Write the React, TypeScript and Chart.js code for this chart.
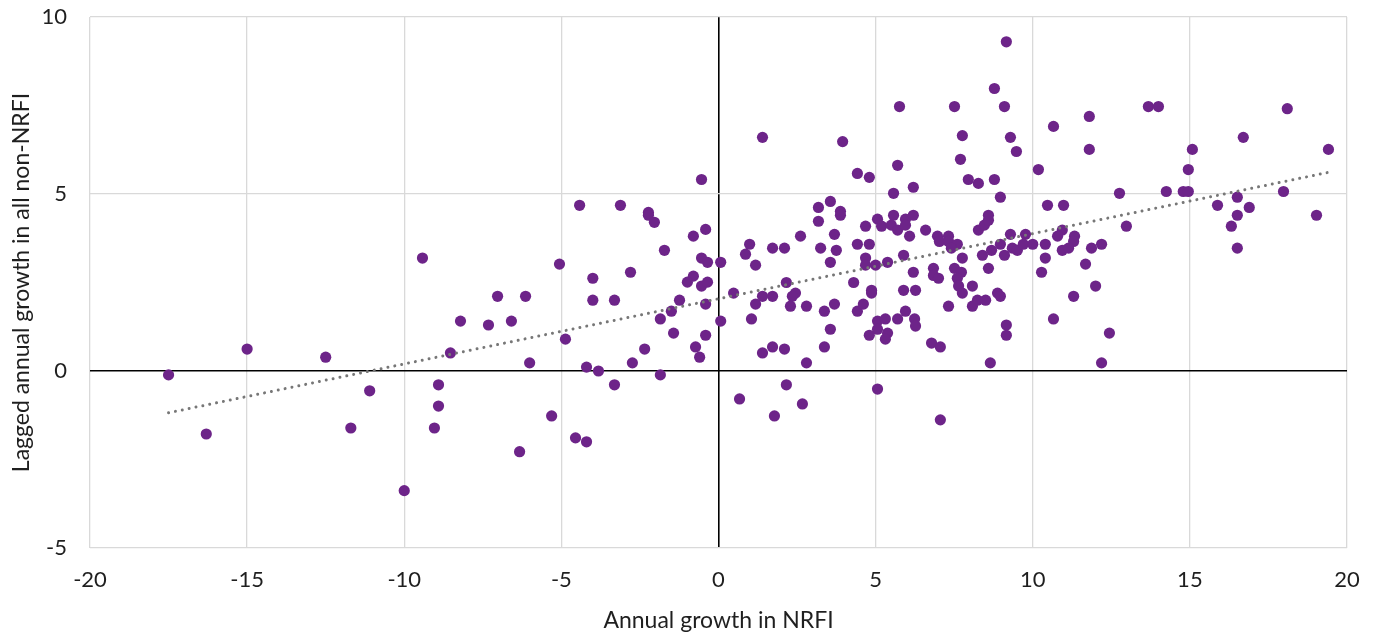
import React, { useEffect, useRef } from 'react';
import { Chart, registerables } from 'chart.js';

Chart.register(...registerables);

// Annual growth in NRFI (x) and lagged annual growth in all non-NRFI (y)
const NRFI_GROWTH: number[] = [
  -17.5, -16.3, -15.0, -12.5, -11.1, -11.7, -10.0,
  -0.54, -4.42, -3.12, -2.23, -2.23, -2.04, -0.41, -0.8, -9.42, -5.06, -0.54, -0.35, 0.07,
  -1.72, -4.0, -2.8, -0.8, -0.99, -0.54, -0.35, -7.03, -6.14, -4.0, -3.31, -1.24, -0.41,
  -1.5, -1.85, 0.07, -8.21, -7.32, -6.59, -1.43, -0.41, -4.87, -2.35, -0.73, -0.6, -8.53,
  -6.01, -2.74, -4.2, -3.82, -1.85, -3.31, -8.91, -8.91, -9.04, -5.31, -4.55, -4.2, -6.33,
  9.16, 8.78, 5.76, 7.51, 9.1, 1.4, 3.95, 7.76, 9.29, 9.48, 7.7, 5.7, 4.42, 4.8, 7.95,
  8.27, 8.78, 5.57, 6.2, 8.97, 10.18, 3.56, 3.18, 3.88, 3.88, 3.18, 5.06, 5.57, 5.95, 6.2,
  5.19, 5.5, 5.7, 5.95, 6.08, 4.68, 6.59, 3.69, 2.61, 6.97, 7.32, 7.03, 7.32, 7.6, 8.27,
  8.46, 8.59, 8.59, 9.29, 9.77, 8.97, 9.35, 9.51, 9.7, 10.0, 0.99, 0.86, 1.18, 1.72, 2.1,
  3.25, 3.75, 4.42, 4.8, 3.56, 4.68, 4.68, 5.0, 5.38, 5.89, 7.41, 7.76, 8.4, 8.69, 9.1,
  6.2, 6.84, 6.84, 7.0, 7.51, 7.73, 7.6, 8.59, 2.16, 4.3,
  4.87, 4.87, 5.89, 6.27, 7.64, 7.76, 8.08, 8.88, 8.97, 0.48, 1.4, 1.72, 2.45, 2.35, 1.18,
  2.29, 2.8, 3.37, 3.69, 4.42, 4.61, 1.05, 5.06, 5.31, 5.7, 5.95, 6.24, 6.27, 7.32, 8.08,
  8.24, 8.5, 3.56, 5.06, 5.38, 4.8, 5.31, 9.16, 9.16, 1.4, 1.72, 2.1, 3.37, 2.8, 6.78,
  7.06, 8.65, 2.16, 0.67, 2.67, 1.78, 5.06, 7.06,
  13.68, 14.0, 18.1, 11.8, 10.66, 16.7, 11.8, 15.08, 19.41, 14.95, 12.76, 14.25, 14.79,
  14.95, 17.98, 16.51, 10.47, 10.98, 15.88, 16.89, 16.51, 19.03, 12.98, 16.32, 10.94,
  10.79, 11.33, 11.3, 10.4, 12.19, 11.87, 10.94, 11.14, 16.51, 10.4, 11.68, 10.28, 12.0,
  11.3, 10.66, 12.44, 12.19,
];

const LAGGED_GROWTH: number[] = [
  -0.11, -1.78, 0.62, 0.39, -0.56, -1.61, -3.38,
  5.41, 4.68, 4.68, 4.48, 4.4, 4.2, 4.0, 3.81, 3.19, 3.02, 3.19, 3.07, 3.07,
  3.41, 2.62, 2.79, 2.68, 2.51, 2.4, 2.51, 2.11, 2.11, 2.0, 2.0, 2.0, 1.89,
  1.69, 1.47, 1.41, 1.41, 1.3, 1.41, 1.07, 1.01, 0.9, 0.62, 0.68, 0.39, 0.51,
  0.23, 0.23, 0.11, 0.0, -0.11, -0.39, -0.39, -0.99, -1.61, -1.27, -1.89, -2.0, -2.28,
  9.3, 7.98, 7.47, 7.47, 7.47, 6.6, 6.48, 6.65, 6.6, 6.2, 5.98, 5.81, 5.58, 5.47, 5.41,
  5.3, 5.41, 5.02, 5.19, 4.91, 5.69, 4.79, 4.62, 4.51, 4.4, 4.23, 4.29, 4.4, 4.29, 4.4,
  4.09, 4.12, 3.98, 4.12, 3.81, 4.09, 3.98, 3.86, 3.81, 3.81, 3.81, 3.66, 3.66, 3.58, 3.98,
  4.12, 4.26, 4.4, 3.86, 3.86, 3.58, 3.47, 3.41, 3.58, 3.58, 3.58, 3.3, 2.99, 3.47, 3.47,
  3.47, 3.41, 3.58, 3.58, 3.07, 3.19, 2.99, 2.99, 3.07, 3.27, 3.47, 3.19, 3.27, 3.41, 3.27,
  2.79, 2.9, 2.7, 2.62, 2.9, 2.79, 2.62, 2.9, 2.5, 2.5,
  2.28, 2.2, 2.28, 2.28, 2.4, 2.2, 2.4, 2.2, 2.11, 2.2, 2.11, 2.11, 2.2, 2.11, 1.89,
  1.83, 1.83, 1.69, 1.89, 1.69, 1.89, 1.47, 1.41, 1.47, 1.47, 1.69, 1.47, 1.27, 1.83, 1.83,
  2.0, 2.0, 1.18, 1.18, 1.07, 1.01, 0.9, 1.3, 1.01, 0.51, 0.68, 0.62, 0.68, 0.23, 0.79,
  0.68, 0.23, -0.39, -0.79, -0.93, -1.27, -0.51, -1.38,
  7.47, 7.47, 7.41, 7.19, 6.91, 6.6, 6.26, 6.26, 6.26, 5.69, 5.02, 5.07, 5.07,
  5.07, 5.07, 4.91, 4.68, 4.68, 4.68, 4.62, 4.4, 4.4, 4.09, 4.09, 3.98,
  3.81, 3.81, 3.66, 3.58, 3.58, 3.47, 3.41, 3.47, 3.47, 3.19, 3.02, 2.79, 2.4,
  2.11, 1.47, 1.07, 0.23,
];

const X_TICKS: number[] = [-20, -15, -10, -5, 0, 5, 10, 15, 20];
const Y_TICKS: number[] = [-5, 0, 5, 10];

// Linear trendline
const TREND_SLOPE = 0.184;
const TREND_INTERCEPT = 2.04;

const X_TITLE = 'Annual growth in NRFI';
const Y_TITLE = 'Lagged annual growth in all non-NRFI';

export default function App() {
  const canvasRef = useRef<HTMLCanvasElement | null>(null);

  useEffect(() => {
    document.body.style.margin = '0';
    const canvas = canvasRef.current;
    if (!canvas) return;

    const points = NRFI_GROWTH.map((x, i) => ({ x, y: LAGGED_GROWTH[i] }));
    const minX = Math.min(...NRFI_GROWTH);
    const maxX = Math.max(...NRFI_GROWTH);
    const trend = [minX, maxX].map((x) => ({ x, y: TREND_INTERCEPT + TREND_SLOPE * x }));

    const tickFont = { family: 'Lato', size: 22 };
    const titleFont = { family: 'Lato', size: 23 };
    const textColor = '#1f1f1f';
    const gridColor = (ctx: any) => (ctx.tick && ctx.tick.value === 0 ? '#000000' : '#d9d9d9');
    const gridWidth = (ctx: any) => (ctx.tick && ctx.tick.value === 0 ? 1.6 : 1.3);

    const chart = new Chart(canvas, {
      type: 'scatter',
      data: {
        datasets: [
          {
            type: 'line',
            label: 'Trend',
            data: trend,
            showLine: true,
            borderColor: '#777777',
            borderWidth: 3,
            borderDash: [0.001, 7],
            borderCapStyle: 'round',
            pointRadius: 0,
            fill: false,
            order: 0,
          } as any,
          {
            label: 'Data',
            data: points,
            backgroundColor: '#6d2489',
            borderColor: '#6d2489',
            borderWidth: 0,
            pointRadius: 5.6,
            order: 1,
          },
        ],
      },
      options: {
        animation: false,
        responsive: false,
        layout: { padding: { top: 17, right: 27, left: 0, bottom: 0 } },
        plugins: {
          legend: { display: false },
          tooltip: { enabled: false },
        },
        scales: {
          x: {
            type: 'linear',
            min: -20,
            max: 20,
            afterBuildTicks: (s: any) => {
              s.ticks = X_TICKS.map((v) => ({ value: v }));
            },
            afterFit: (s: any) => {
              s.height = 86;
              s.paddingLeft = 0;
              s.paddingRight = 0;
            },
            ticks: { font: tickFont, color: textColor, padding: 19 },
            grid: { color: gridColor, lineWidth: gridWidth, drawTicks: false },
            border: { display: false },
            title: {
              display: true,
              text: X_TITLE,
              font: titleFont,
              color: textColor,
              padding: { top: 0, bottom: 0 },
            },
          },
          y: {
            type: 'linear',
            min: -5,
            max: 10,
            afterBuildTicks: (s: any) => {
              s.ticks = Y_TICKS.map((v) => ({ value: v }));
            },
            afterFit: (s: any) => {
              s.width = 90;
              s.paddingTop = 0;
              s.paddingBottom = 0;
            },
            ticks: { font: tickFont, color: textColor, padding: 23 },
            grid: { color: gridColor, lineWidth: gridWidth, drawTicks: false },
            border: { display: false },
            title: {
              display: true,
              text: Y_TITLE,
              font: titleFont,
              color: textColor,
              padding: { top: 8, bottom: 0 },
            },
          },
        },
      },
    });

    return () => {
      chart.destroy();
    };
  }, []);

  return (
    <div style={{ width: 1374, height: 634, background: '#ffffff' }}>
      <canvas ref={canvasRef} width={1374} height={634} />
    </div>
  );
}
